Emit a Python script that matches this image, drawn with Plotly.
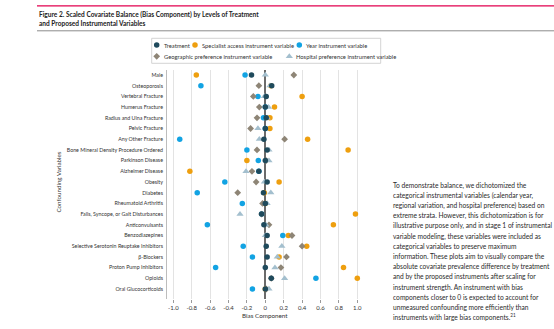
import plotly.graph_objects as go

# ---- data -------------------------------------------------------------
variables = [
    "Male", "Osteoporosis", "Vertebral Fracture", "Humerus Fracture",
    "Radius and Ulna Fracture", "Pelvic Fracture", "Any Other Fracture",
    "Bone Mineral Density Procedure Ordered", "Parkinson Disease",
    "Alzheimer Disease", "Obesity", "Diabetes", "Rheumatoid Arthritis",
    "Falls, Syncope, or Gait Disturbances", "Anticonvulsants",
    "Benzodiazepines", "Selective Serotonin Reuptake Inhibitors",
    "β-Blockers", "Proton Pump Inhibitors", "Opioids", "Oral Glucocorticoids",
]
treatment = [-0.15, 0.07, 0.01, 0.00, 0.01, 0.00, -0.015, 0.02, 0.00, -0.07, 0.02,
             -0.02, 0.00, -0.04, -0.015, 0.02, 0.01, 0.02, 0.00, 0.065, 0.00]
specialist = [-0.75, 0.06, 0.40, 0.10, 0.05, 0.05, 0.46, 0.90, -0.20, -0.82, 0.15,
              -0.01, 0.00, 0.98, 0.74, 0.25, 0.45, 0.15, 0.85, 1.00, 0.00]
year = [-0.22, -0.70, -0.08, 0.00, -0.02, 0.00, -0.93, -0.20, -0.076, -0.07, -0.44,
        -0.74, -0.25, -0.04, -0.63, 0.19, -0.24, -0.14, -0.54, 0.55, -0.14]
geographic = [0.31, -0.07, -0.13, -0.065, -0.09, -0.16, 0.21, -0.09, 0.01, -0.145, -0.10,
              -0.30, -0.03, -0.04, 0.04, 0.29, 0.40, 0.23, 0.17, 0.065, 0.01]
hospital = [0.00, 0.05, -0.01, 0.036, 0.02, -0.08, -0.065, 0.04, 0.04, -0.21, -0.01,
            0.06, 0.02, -0.275, 0.007, 0.00, 0.18, 0.13, 0.105, 0.21, 0.04]

x_ticks = [-1.0, -0.8, -0.6, -0.4, -0.2, 0, 0.2, 0.4, 0.6, 0.8, 1.0]
x_tick_labels = ["-1.0", "-0.8", "-0.6", "-0.4", "-0.2", "0", "0.2", "0.4", "0.6", "0.8", "1.0"]

title_lines = [
    "Figure 2. Scaled Covariate Balance (Bias Component) by Levels of Treatment",
    "and Proposed Instrumental Variables",
]
note_lines = [
    "To demonstrate balance, we dichotomized the",
    "categorical instrumental variables (calendar year,",
    "regional variation, and hospital preference) based on",
    "extreme strata. However, this dichotomization is for",
    "illustrative purpose only, and in stage 1 of instrumental",
    "variable modeling, these variables were included as",
    "categorical variables to preserve maximum",
    "information. These plots aim to visually compare the",
    "absolute covariate prevalence difference by treatment",
    "and by the proposed instruments after scaling for",
    "instrument strength. An instrument with bias",
    "components closer to 0 is expected to account for",
    "unmeasured confounding more efficiently than",
    "instruments with large bias components.<sup>21</sup>",
]

# ---- styling ----------------------------------------------------------
W, H = 554, 329
FONT = "Lato, 'Open Sans', sans-serif"
TXT = "#333333"

series = [
    # name, values, colour, symbol, size
    ("Specialist access instrument variable", specialist, "#EE9F0F", "circle", 5.5),
    ("Year instrument variable", year, "#12A3E3", "circle", 5.5),
    ("Geographic preference instrument variable", geographic, "#8E8576", "diamond", 5.2),
    ("Hospital preference instrument variable", hospital, "#A3BFCE", "triangle-up", 6.3),
    ("Treatment", treatment, "#1F4A5C", "circle", 5.5),
]
legend_rows = [
    ["Treatment", "Specialist access instrument variable", "Year instrument variable"],
    ["Geographic preference instrument variable", "Hospital preference instrument variable"],
]
style = {s[0]: s for s in series}


def px(x):
    return x / W


def py(y):
    return 1 - y / H


# plot area in pixels
L, R, T, B = 167, 362, 70, 299

fig = go.Figure()
for name, vals, color, symbol, size in series:
    fig.add_trace(go.Scatter(
        x=vals, y=variables, mode="markers", name=name, showlegend=False,
        marker=dict(color=color, symbol=symbol, size=size, line=dict(width=0)),
        cliponaxis=False,
    ))

# legend, drawn on a full-canvas overlay axis measured in pixels
legend_x = [[156.7, 195.0, 299.3], [156.7, 289.3]]
legend_y = [45.0, 56.3]
annotations = []
for r, names in enumerate(legend_rows):
    for c, name in enumerate(names):
        _, _, color, symbol, size = style[name]
        fig.add_trace(go.Scatter(
            x=[legend_x[r][c]], y=[legend_y[r]], xaxis="x2", yaxis="y2",
            mode="markers", showlegend=False, hoverinfo="skip", cliponaxis=False,
            marker=dict(color=color, symbol=symbol, size=size, line=dict(width=0)),
        ))
        annotations.append(dict(
            x=px(legend_x[r][c] + 5.0), y=py(legend_y[r]), xref="paper", yref="paper",
            text=name, showarrow=False, xanchor="left", yanchor="middle",
            font=dict(family=FONT, size=5.8, color=TXT),
        ))

for i, line in enumerate(title_lines):
    annotations.append(dict(
        x=px(36.5), y=py(14.5 + 9.3 * i), xref="paper", yref="paper", text="<b>" + line + "</b>",
        showarrow=False, xanchor="left", yanchor="middle",
        font=dict(family=FONT, size=6.55, color="#222222"),
    ))

for i, line in enumerate(note_lines):
    annotations.append(dict(
        x=px(391), y=py(185.5 + 10.1 * i), xref="paper", yref="paper", text=line,
        showarrow=False, xanchor="left", yanchor="middle",
        font=dict(family=FONT, size=6.65, color="#2A2A2A"),
    ))

annotations.append(dict(
    x=px(57.5), y=py(182), xref="paper", yref="paper", text="Confounding Variables",
    textangle=-90, showarrow=False, xanchor="center", yanchor="middle",
    font=dict(family=FONT, size=6.2, color=TXT),
))
annotations.append(dict(
    x=px(265.3), y=py(315), xref="paper", yref="paper", text="Bias Component",
    showarrow=False, xanchor="center", yanchor="middle",
    font=dict(family=FONT, size=6.3, color=TXT),
))

shapes = [
    dict(type="line", xref="paper", yref="paper", x0=px(37), x1=1, y0=py(5.8), y1=py(5.8),
         line=dict(color="#E2004F", width=1.3)),
    dict(type="line", xref="paper", yref="paper", x0=px(37), x1=1, y0=py(30.8), y1=py(30.8),
         line=dict(color="#6E6E6E", width=0.8)),
    dict(type="rect", xref="paper", yref="paper", x0=px(151.7), x1=px(380.7),
         y0=py(38.3), y1=py(63.3), line=dict(color="#C8C8C8", width=0.8)),
]

# x range so that -1 and 1 sit at 173 px and 357 px
scale = (357.3 - 173.3) / 2.0
x0 = -1 - (173.3 - L) / scale
x1 = x0 + (R - L) / scale
row_h = (289 - 75) / (len(variables) - 1)
y_top = -(75 - T) / row_h
y_bot = (len(variables) - 1) + (B - 289) / row_h

fig.update_layout(
    width=W, height=H, margin=dict(l=0, r=0, t=0, b=0),
    paper_bgcolor="white", plot_bgcolor="rgba(0,0,0,0)",
    showlegend=False, annotations=annotations, shapes=shapes,
    xaxis=dict(
        domain=[px(L), px(R)], range=[x0, x1], tickvals=x_ticks, ticktext=x_tick_labels,
        showgrid=True, gridcolor="#E3E3E3", gridwidth=0.8,
        zeroline=True, zerolinecolor="#6B6B6B", zerolinewidth=1.5,
        ticks="outside", ticklen=3, tickcolor="#9A9A9A", tickwidth=0.8,
        showline=False, tickfont=dict(family=FONT, size=6, color=TXT),
    ),
    yaxis=dict(
        domain=[py(B), py(T)], range=[y_bot, y_top], type="category",
        categoryorder="array", categoryarray=variables,
        showgrid=False, zeroline=False, showline=True, linecolor="#BDBDBD", linewidth=1,
        ticks="", ticklabelstandoff=2, tickfont=dict(family=FONT, size=5.3, color=TXT),
    ),
    xaxis2=dict(domain=[0, 1], range=[0, W], visible=False, fixedrange=True, anchor="y2"),
    yaxis2=dict(domain=[0, 1], range=[H, 0], visible=False, fixedrange=True, anchor="x2"),
)

fig.write_html("out.html")
